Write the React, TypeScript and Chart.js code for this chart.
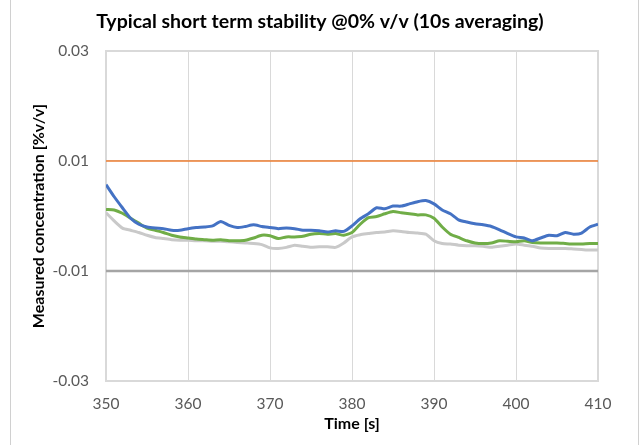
import { useEffect, useRef } from "react";
import { Chart, registerables } from "chart.js";

Chart.register(...registerables);

const times = [
  350, 351, 352, 353, 354, 355, 356, 357, 358, 359,
  360, 361, 362, 363, 364, 365, 366, 367, 368, 369,
  370, 371, 372, 373, 374, 375, 376, 377, 378, 379,
  380, 381, 382, 383, 384, 385, 386, 387, 388, 389,
  390, 391, 392, 393, 394, 395, 396, 397, 398, 399,
  400, 401, 402, 403, 404, 405, 406, 407, 408, 409, 410,
];

const blueSeries = [
  0.0057, 0.0035, 0.0015, -0.0004, -0.0015, -0.002, -0.0022, -0.0023, -0.0026, -0.0026,
  -0.0023, -0.0021, -0.002, -0.0018, -0.001, -0.0017, -0.0021, -0.0019, -0.0016, -0.0019,
  -0.0021, -0.0023, -0.0022, -0.0023, -0.0026, -0.0026, -0.0027, -0.0029, -0.0027, -0.0028,
  -0.0018, -0.0005, 0.0004, 0.0015, 0.0013, 0.0018, 0.0018, 0.0022, 0.0026, 0.0028,
  0.0022, 0.0011, 0.0004, -0.0007, -0.0011, -0.0014, -0.0016, -0.0019, -0.0025, -0.0032,
  -0.0038, -0.004, -0.0045, -0.004, -0.0035, -0.0036, -0.003, -0.0033, -0.0031, -0.002, -0.0015,
];

const greenSeries = [
  0.0012, 0.0011, 0.0005, -0.0004, -0.0013, -0.0022, -0.0026, -0.003, -0.0035, -0.0038,
  -0.004, -0.0042, -0.0043, -0.0044, -0.0043, -0.0045, -0.0045, -0.0044, -0.004, -0.0035,
  -0.0036, -0.0041, -0.0038, -0.0038, -0.0037, -0.0033, -0.0032, -0.0033, -0.0032, -0.0035,
  -0.003, -0.0015, -0.0003, -0.0001, 0.0004, 0.0008, 0.0006, 0.0004, 0.0002, 0.0002,
  -0.0004, -0.002, -0.0033, -0.0039, -0.0045, -0.0049, -0.005, -0.0049, -0.0045, -0.0046,
  -0.0047, -0.0045, -0.0048, -0.0049, -0.0049, -0.0049, -0.005, -0.0051, -0.0051, -0.005, -0.005,
];

const graySeries = [
  0.0006, -0.0009, -0.0022, -0.0026, -0.003, -0.0035, -0.0039, -0.0041, -0.0043, -0.0044,
  -0.0044, -0.0045, -0.0045, -0.0046, -0.0046, -0.0047, -0.0048, -0.0049, -0.005, -0.0052,
  -0.0058, -0.0059, -0.0057, -0.0053, -0.0055, -0.0057, -0.0056, -0.0056, -0.0057, -0.0049,
  -0.0038, -0.0034, -0.0032, -0.003, -0.0029, -0.0027, -0.0028, -0.003, -0.0031, -0.0033,
  -0.0045, -0.005, -0.0051, -0.0053, -0.0054, -0.0054, -0.0055, -0.0057, -0.0055, -0.0053,
  -0.0051, -0.0053, -0.0055, -0.0058, -0.0059, -0.0059, -0.0059, -0.006, -0.0061, -0.0062, -0.0062,
];

const limitTimes = [350, 410];
const upperLimit = [0.01, 0.01];
const lowerLimit = [-0.01, -0.01];

const xTicks = [350, 360, 370, 380, 390, 400, 410];
const yTicks = [-0.03, -0.01, 0.01, 0.03];

const chartTitle = "Typical short term stability @0% v/v (10s averaging)";
const xTitle = "Time [s]";
const yTitle = "Measured concentration [%v/v]";

const FONT = "Lato";

function toPoints(xs: number[], ys: number[]) {
  return xs.map((x, i) => ({ x, y: ys[i] }));
}

const framePlugin = {
  id: "frame",
  beforeDraw(chart: any) {
    const ctx = chart.ctx;
    ctx.save();
    ctx.fillStyle = "#ffffff";
    ctx.fillRect(0, 0, chart.width, chart.height);
    ctx.strokeStyle = "#d0d0d0";
    ctx.lineWidth = 1;
    ctx.beginPath();
    ctx.moveTo(10.5, 0);
    ctx.lineTo(10.5, chart.height);
    ctx.moveTo(638.5, 0);
    ctx.lineTo(638.5, chart.height);
    ctx.stroke();
    ctx.restore();
  },
  beforeDatasetsDraw(chart: any) {
    const { ctx, chartArea } = chart;
    ctx.save();
    ctx.strokeStyle = "#d9d9d9";
    ctx.lineWidth = 2;
    ctx.strokeRect(chartArea.left, chartArea.top, chartArea.right - chartArea.left, chartArea.bottom - chartArea.top);
    ctx.restore();
  },
  afterDraw(chart: any) {
    const ctx = chart.ctx;
    ctx.save();
    ctx.fillStyle = "#000000";
    ctx.font = `bold 19.5px ${FONT}`;
    ctx.textAlign = "center";
    ctx.textBaseline = "middle";
    ctx.fillText(chartTitle, 320, 22);
    ctx.restore();
  },
};

export default function App() {
  const ref = useRef<HTMLCanvasElement>(null);

  useEffect(() => {
    document.body.style.margin = "0";
    const canvas = ref.current!;
    const chart = new Chart(canvas, {
      type: "line",
      data: {
        datasets: [
          {
            label: "Blue",
            data: toPoints(times, blueSeries),
            borderColor: "#4472c4",
            borderWidth: 3,
            pointRadius: 0,
            tension: 0.2,
          },
          {
            label: "Green",
            data: toPoints(times, greenSeries),
            borderColor: "#70ad47",
            borderWidth: 3,
            pointRadius: 0,
            tension: 0.2,
          },
          {
            label: "Gray",
            data: toPoints(times, graySeries),
            borderColor: "#c9c9c9",
            borderWidth: 3,
            pointRadius: 0,
            tension: 0.2,
          },
          {
            label: "Upper limit",
            data: toPoints(limitTimes, upperLimit),
            borderColor: "#ed7d31",
            borderWidth: 1.5,
            pointRadius: 0,
          },
          {
            label: "Lower limit",
            data: toPoints(limitTimes, lowerLimit),
            borderColor: "#a5a5a5",
            borderWidth: 2.5,
            pointRadius: 0,
          },
        ],
      },
      options: {
        responsive: false,
        animation: false,
        layout: { padding: { left: 0, right: 42, top: 51, bottom: 0 } },
        plugins: {
          legend: { display: false },
          tooltip: { enabled: false },
          title: { display: false },
        },
        scales: {
          x: {
            type: "linear",
            min: 350,
            max: 410,
            afterBuildTicks: (scale: any) => {
              scale.ticks = xTicks.map((v) => ({ value: v }));
            },
            afterFit: (scale: any) => {
              scale.height = 64;
            },
            grid: { color: "#d9d9d9", lineWidth: 1, drawTicks: false },
            border: { display: false },
            ticks: {
              color: "#595959",
              font: { family: FONT, size: 15.5 },
              padding: 14,
              maxRotation: 0,
            },
            title: {
              display: true,
              text: xTitle,
              color: "#000000",
              font: { family: FONT, size: 16, weight: "bold" },
              padding: { top: 0, bottom: 12 },
            },
          },
          y: {
            type: "linear",
            min: -0.03,
            max: 0.03,
            afterBuildTicks: (scale: any) => {
              scale.ticks = yTicks.map((v) => ({ value: v }));
            },
            afterFit: (scale: any) => {
              scale.width = 106;
            },
            grid: { color: "#d9d9d9", lineWidth: 1, drawTicks: false },
            border: { display: false },
            ticks: {
              color: "#595959",
              font: { family: FONT, size: 15.5 },
              padding: 17,
              callback: (v: any) => Number(v).toFixed(2),
            },
            title: {
              display: true,
              text: yTitle,
              color: "#000000",
              font: { family: FONT, size: 16, weight: "bold" },
              padding: { top: 29, bottom: 0 },
            },
          },
        },
      },
      plugins: [framePlugin],
    });
    return () => chart.destroy();
  }, []);

  return (
    <div style={{ position: "relative", width: 640, height: 445 }}>
      <canvas ref={ref} width={640} height={445} style={{ display: "block" }} />
    </div>
  );
}
